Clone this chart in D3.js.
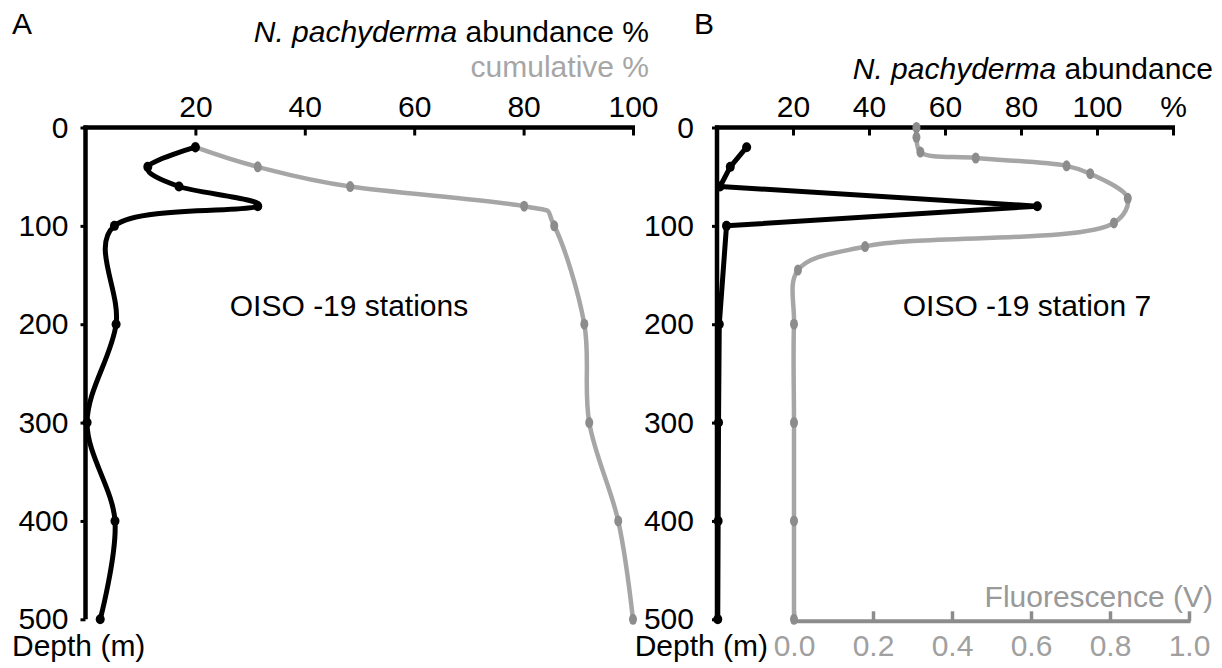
<!DOCTYPE html>
<html>
<head>
<meta charset="utf-8">
<script src="https://cdn.jsdelivr.net/npm/d3@7"></script>
<style>
  html, body { margin: 0; padding: 0; background: #fff; }
  svg { display: block; font-family: "Liberation Sans", Arial, sans-serif; }
</style>
</head>
<body>
<svg id="chart" width="1222" height="668"></svg>
<script>
// ---------------- data ----------------
// Panel A: OISO-19 stations (depth in m, abundance %)
const depthsA = [20, 40, 60, 80, 100, 200, 300, 400, 500];
const abundanceA = [20, 11.3, 17, 31.4, 5.2, 5.5, 0.2, 5.3, 2.6];
const cumulativeA = [20, 31.4, 48.3, 80.1, 85.6, 91.1, 92.0, 97.3, 100];

// Panel B: OISO-19 station 7
const depthsB = [20, 40, 60, 80, 100, 200, 300, 400, 500];
const abundanceB = [7.8, 3.5, 0.8, 84.3, 2.5, 0.6, 0.4, 0.3, 0.2];
const fluorDepthsB = [0, 10, 25, 31, 39, 47, 72, 97, 121, 145, 200, 300, 400, 500];
const fluorB = [0.31, 0.31, 0.32, 0.46, 0.69, 0.75, 0.845, 0.81, 0.18, 0.01, 0, 0, 0, 0];

// tick labels
const depthTicks = [0, 100, 200, 300, 400, 500];
const topTicksA = [20, 40, 60, 80, 100];
const topTicksB = [20, 40, 60, 80, 100, 120];
const topLabelsB = ["20", "40", "60", "80", "100", "%"];
const fluorTicks = [0, 0.2, 0.4, 0.6, 0.8, 1.0];

// ---------------- layout ----------------
const svg = d3.select("#chart");
const FONT = 30;
const BLACK = "#000";
const LGRAY = "#a6a6a6";
const MGRAY = "#8c8c8c";

const y = d3.scaleLinear().domain([0, 500]).range([127.5, 619.3]);
const xA = d3.scaleLinear().domain([0, 100]).range([86, 633]);
const xB = d3.scaleLinear().domain([0, 120]).range([717, 1173]);
const xF = d3.scaleLinear().domain([0, 1]).range([794, 1189]);

const smooth = d3.curveCardinal.tension(0);
const smoothB = d3.curveCatmullRom.alpha(0.5);

function leftAxis(x0, pad) {
  const g = svg.append("g").attr("transform", `translate(${x0},0)`);
  g.call(d3.axisLeft(y).tickValues(depthTicks).tickSize(5).tickSizeOuter(0).tickPadding(pad));
  g.select(".domain").remove();
  g.selectAll(".tick line").attr("stroke", BLACK).attr("stroke-width", 3);
  g.selectAll(".tick text").attr("font-size", FONT).attr("fill", BLACK)
    .attr("font-family", "Liberation Sans, Arial, sans-serif").attr("dy", "0.32em");
  svg.append("line").attr("x1", x0).attr("x2", x0)
    .attr("y1", y(0) - 2).attr("y2", y(500))
    .attr("stroke", BLACK).attr("stroke-width", 4.5);
}

function topAxis(x, ticks, labels, x0, x1) {
  const g = svg.append("g").attr("transform", `translate(0,${y(0)})`);
  g.call(d3.axisTop(x).tickValues(ticks).tickSizeInner(-8).tickSizeOuter(0).tickPadding(11)
    .tickFormat((d, i) => labels ? labels[i] : d));
  g.select(".domain").remove();
  g.selectAll(".tick line").attr("stroke", BLACK).attr("stroke-width", 3);
  g.selectAll(".tick text").attr("font-size", FONT).attr("fill", BLACK)
    .attr("font-family", "Liberation Sans, Arial, sans-serif");
  svg.append("line").attr("x1", x0).attr("x2", x1)
    .attr("y1", y(0)).attr("y2", y(0))
    .attr("stroke", BLACK).attr("stroke-width", 4.5);
}

// ---------------- Panel A ----------------
leftAxis(85.5, 12);
topAxis(xA, topTicksA, null, 83.5, 635);

const lineA = d3.line().curve(smooth);
svg.append("path")
  .attr("d", lineA(depthsA.map((d, i) => [xA(cumulativeA[i]), y(d)])))
  .attr("fill", "none").attr("stroke", LGRAY).attr("stroke-width", 4.5);
svg.append("g").selectAll("ellipse").data(depthsA).join("ellipse")
  .attr("cx", (d, i) => xA(cumulativeA[i])).attr("cy", d => y(d))
  .attr("rx", 4).attr("ry", 5.5).attr("fill", MGRAY);

svg.append("path")
  .attr("d", lineA(depthsA.map((d, i) => [xA(abundanceA[i]), y(d)])))
  .attr("fill", "none").attr("stroke", BLACK).attr("stroke-width", 5);
svg.append("g").selectAll("ellipse").data(depthsA).join("ellipse")
  .attr("cx", (d, i) => xA(abundanceA[i])).attr("cy", d => y(d))
  .attr("rx", 4.5).attr("ry", 5).attr("fill", BLACK);

// ---------------- Panel B ----------------
// fluorescence bottom axis
const fy = y(500) + 2;
const gF = svg.append("g").attr("transform", `translate(0,${fy})`);
gF.call(d3.axisBottom(xF).tickValues(fluorTicks).tickSizeInner(-10).tickSizeOuter(0)
  .tickPadding(13).tickFormat(d3.format(".1f")));
gF.select(".domain").remove();
gF.selectAll(".tick line").attr("stroke", MGRAY).attr("stroke-width", 3.5);
gF.selectAll(".tick text").attr("font-size", FONT).attr("fill", "#a0a0a0")
  .attr("font-family", "Liberation Sans, Arial, sans-serif");
svg.append("line").attr("x1", xF(0)).attr("x2", xF(1) + 1.5)
  .attr("y1", fy).attr("y2", fy)
  .attr("stroke", MGRAY).attr("stroke-width", 4);

leftAxis(717, 18);
topAxis(xB, topTicksB, topLabelsB, 715, 1175);

const lineF = d3.line().curve(smoothB);
svg.append("path")
  .attr("d", lineF(fluorDepthsB.map((d, i) => [xF(fluorB[i]), y(d)])))
  .attr("fill", "none").attr("stroke", LGRAY).attr("stroke-width", 4.5);
svg.append("g").selectAll("ellipse").data(fluorDepthsB).join("ellipse")
  .attr("cx", (d, i) => xF(fluorB[i])).attr("cy", d => y(d))
  .attr("rx", 4).attr("ry", 5.5).attr("fill", MGRAY);

const lineB = d3.line();
svg.append("path")
  .attr("d", lineB(depthsB.map((d, i) => [xB(abundanceB[i]), y(d)])))
  .attr("fill", "none").attr("stroke", BLACK).attr("stroke-width", 5)
  .attr("stroke-linejoin", "round");
svg.append("g").selectAll("ellipse").data(depthsB).join("ellipse")
  .attr("cx", (d, i) => xB(abundanceB[i])).attr("cy", d => y(d))
  .attr("rx", 4.5).attr("ry", 5).attr("fill", BLACK);

// ---------------- text ----------------
function txt(x, yy, s, opts = {}) {
  return svg.append("text").attr("x", x).attr("y", yy)
    .attr("font-size", opts.size || FONT)
    .attr("fill", opts.fill || BLACK)
    .attr("text-anchor", opts.anchor || "start")
    .text(s);
}
txt(12, 34, "A");
txt(694, 34, "B");

const tA = svg.append("text").attr("x", 649).attr("y", 42).attr("font-size", FONT)
  .attr("text-anchor", "end").attr("fill", BLACK);
tA.append("tspan").attr("font-style", "italic").text("N. pachyderma");
tA.append("tspan").text(" abundance %");
txt(649, 77, "cumulative %", { anchor: "end", fill: LGRAY });

const tB = svg.append("text").attr("x", 1213).attr("y", 79).attr("font-size", FONT)
  .attr("text-anchor", "end").attr("fill", BLACK);
tB.append("tspan").attr("font-style", "italic").text("N. pachyderma");
tB.append("tspan").text(" abundance");

txt(349, 316, "OISO -19 stations", { anchor: "middle" });
txt(1027, 316, "OISO -19 station 7", { anchor: "middle" });

txt(12, 656, "Depth (m)");
txt(768, 656, "Depth (m)", { anchor: "end" });
txt(1213, 607, "Fluorescence (V)", { anchor: "end", fill: "#999" });
</script>
</body>
</html>
